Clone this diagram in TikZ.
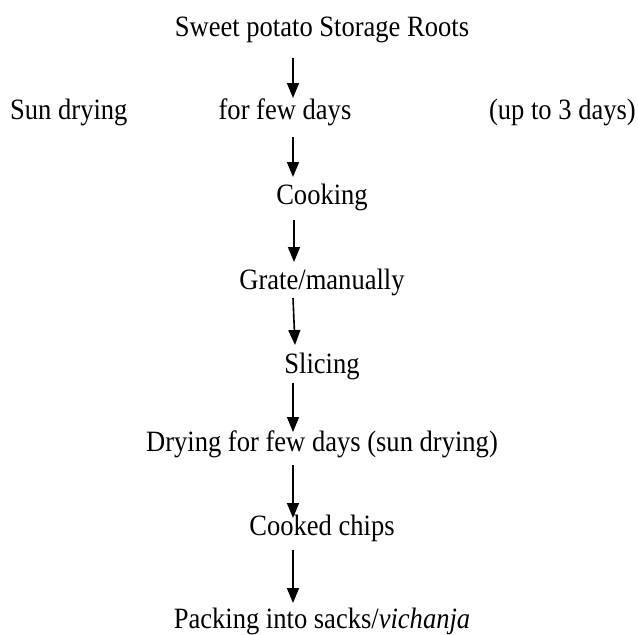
\documentclass[tikz,border=0pt]{standalone}
\usepackage{fontspec}
\setmainfont[FakeStretch=0.9]{Liberation Serif}
\usetikzlibrary{arrows.meta}
\begin{document}
\begin{tikzpicture}[x=1pt,y=-1pt,
  lbl/.style={anchor=base,inner sep=0pt,font=\fontsize{29.5}{33}\selectfont},
  flow/.style={line width=1.6pt,-{Triangle[width=12pt,length=15pt]}}]
\useasboundingbox (0,0) rectangle (638,635);
% text nodes
\node[lbl] (roots) at (322,36) {Sweet potato Storage Roots};
\node[lbl,anchor=base west] (sun) at (10,119) {Sun drying};
\node[lbl] (few) at (285,119) {for few days};
\node[lbl,anchor=base east] (upto) at (636,119) {(up to 3 days)};
\node[lbl] (cook) at (322,204) {Cooking};
\node[lbl] (grate) at (322,289) {Grate/manually};
\node[lbl] (slice) at (322,373) {Slicing};
\node[lbl] (dry) at (322,451) {Drying for few days (sun drying)};
\node[lbl] (chips) at (322,535) {Cooked chips};
\node[lbl] (pack) at (322,628) {Packing into sacks/\textit{vichanja}};
% arrow end points
\coordinate (a1s) at (293,58);  \coordinate (a1e) at (293,98);
\coordinate (a2s) at (293,137); \coordinate (a2e) at (293,177);
\coordinate (a3s) at (294,220); \coordinate (a3e) at (294,262);
\coordinate (a4s) at (293,298); \coordinate (a4e) at (295,345);
\coordinate (a5s) at (293,383); \coordinate (a5e) at (293,432);
\coordinate (a6s) at (293,465); \coordinate (a6e) at (293,518);
\coordinate (a7s) at (293,550); \coordinate (a7e) at (293,603);
\draw[flow] (a1s) -- (a1e);
\draw[flow] (a2s) -- (a2e);
\draw[flow] (a3s) -- (a3e);
\draw[flow] (a4s) -- (a4e);
\draw[flow] (a5s) -- (a5e);
\draw[flow] (a6s) -- (a6e);
\draw[flow] (a7s) -- (a7e);
\end{tikzpicture}
\end{document}
